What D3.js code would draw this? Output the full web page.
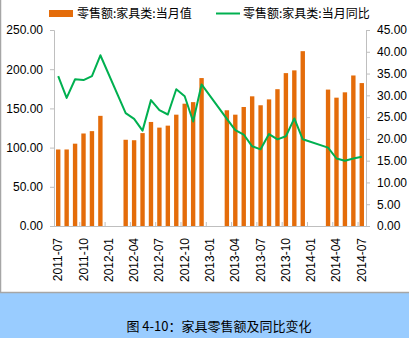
<!DOCTYPE html>
<html><head><meta charset="utf-8">
<script src="https://cdn.jsdelivr.net/npm/d3@7"></script>
<style>
html,body{margin:0;padding:0;background:#fff;}
svg{display:block;}
</style></head><body>
<svg id="c" width="409" height="338"></svg>
<script>
const months = ["2011-07","2011-08","2011-09","2011-10","2011-11","2011-12",
"2012-01","2012-02","2012-03","2012-04","2012-05","2012-06","2012-07","2012-08","2012-09","2012-10","2012-11","2012-12",
"2013-01","2013-02","2013-03","2013-04","2013-05","2013-06","2013-07","2013-08","2013-09","2013-10","2013-11","2013-12",
"2014-01","2014-02","2014-03","2014-04","2014-05","2014-06","2014-07"];
const monthlyValue = [97.6,97.6,105,118,121,140.5,
null,null,110,109.4,118.5,132.7,125.5,128,142,156,158,188.7,
null,null,147.6,142,151.8,165.4,154,161.5,174.5,195,198.5,223,
null,null,174,163.7,170.5,192,182.3];
const yoyValue = [34.4,29.4,33.7,33.5,34.4,39.2,
null,null,25.9,24.6,21.9,28.9,26.6,25.6,31.4,29.8,24,32.5,
null,null,24.6,22.0,21.0,18.3,17.6,21.1,19.9,20.6,24.7,19.9,
null,null,18.0,15.5,15.0,15.5,15.9];
const tickLabels = ["2011-07","2011-10","2012-01","2012-04","2012-07","2012-10","2013-01","2013-04","2013-07","2013-10","2014-01","2014-04","2014-07"];
const leftTicks = [0,50,100,150,200,250];
const rightTicks = [0,5,10,15,20,25,30,35,40,45];
const seriesNames = ["零售额:家具类:当月值","零售额:家具类:当月同比"];
const caption = "图 4-10：家具零售额及同比变化";

const svg = d3.select("#c");
const W=409,H=338;
const numFont = "'Liberation Sans', Arial, sans-serif";
const cjkFont = "'Noto Sans CJK SC', 'Liberation Sans', sans-serif";
const barColor="#E46C0A", lineColor="#00B050", axisColor="#BFBFBF";

// background & frame
svg.append("rect").attr("x",0).attr("y",0).attr("width",W).attr("height",H).attr("fill","#fff");
svg.append("rect").attr("x",0).attr("y",293).attr("width",W).attr("height",H-293).attr("fill","#99CCFF");
svg.append("line").attr("x1",0.5).attr("x2",0.5).attr("y1",0).attr("y2",293).attr("stroke","#A6A6A6").attr("stroke-width",1.5);
svg.append("line").attr("x1",0).attr("x2",W).attr("y1",292.5).attr("y2",292.5).attr("stroke","#A6A6A6").attr("stroke-width",1.5);

const L=54, R=366, T=30, B=226;
const x = d3.scaleBand().domain(months).range([L,R]).padding(0);
const yL = d3.scaleLinear().domain([0,250]).range([B,T]);
const yR = d3.scaleLinear().domain([0,45]).range([B,T]);

// bars
const bw = x.bandwidth()*0.52;
svg.append("g").selectAll("rect").data(months.map((m,i)=>({m,v:monthlyValue[i]})).filter(d=>d.v!=null))
 .join("rect")
 .attr("x",d=>x(d.m)+x.bandwidth()/2-bw/2).attr("width",bw)
 .attr("y",d=>yL(d.v)).attr("height",d=>yL(0)-yL(d.v))
 .attr("fill",barColor);

// line (bridges gaps)
const pts = months.map((m,i)=>({m,v:yoyValue[i]})).filter(d=>d.v!=null);
svg.append("path").datum(pts)
 .attr("d",d3.line().x(d=>x(d.m)+x.bandwidth()/2).y(d=>yR(d.v)))
 .attr("fill","none").attr("stroke",lineColor).attr("stroke-width",2).attr("stroke-linejoin","round");

// left axis
const gl = svg.append("g").attr("transform",`translate(${L},0)`)
 .call(d3.axisLeft(yL).tickValues(leftTicks).tickFormat(d3.format(".2f")).tickSize(4).tickPadding(7));
// right axis
const gr = svg.append("g").attr("transform",`translate(${R},0)`)
 .call(d3.axisRight(yR).tickValues(rightTicks).tickFormat(d3.format(".2f")).tickSize(4).tickPadding(7));
[gl,gr].forEach(g=>{
  g.select(".domain").attr("stroke",axisColor);
  g.selectAll(".tick line").attr("stroke",axisColor);
  g.selectAll(".tick text").attr("fill","#000").style("font-family",numFont).style("font-size","12px");
});

// x axis
svg.append("line").attr("x1",L).attr("x2",R).attr("y1",B+0.5).attr("y2",B+0.5).attr("stroke",axisColor);
const gx = svg.append("g").attr("transform",`translate(0,${B})`);
gx.selectAll("line.tk").data(tickLabels).join("line").attr("class","tk")
 .attr("x1",d=>x(d)+0.5).attr("x2",d=>x(d)+0.5).attr("y1",0).attr("y2",-4).attr("stroke",axisColor);
gx.selectAll("text").data(tickLabels).join("text")
 .attr("transform",d=>`translate(${x(d)+x.bandwidth()/2+4},12) rotate(-90)`)
 .attr("text-anchor","end")
 .style("font-family",numFont).style("font-size","12px").attr("fill","#000")
 .text(d=>d);

// legend
svg.append("rect").attr("x",49).attr("y",10).attr("width",24).attr("height",7).attr("fill",barColor);
svg.append("text").attr("x",77).attr("y",18).text(seriesNames[0])
 .style("font-family",cjkFont).style("font-size","12px").attr("fill","#000");
svg.append("line").attr("x1",216).attr("x2",240).attr("y1",13.5).attr("y2",13.5).attr("stroke",lineColor).attr("stroke-width",2);
svg.append("text").attr("x",243).attr("y",18).text(seriesNames[1])
 .style("font-family",cjkFont).style("font-size","12px").attr("fill","#000");

// caption
svg.append("text").attr("x",219).attr("y",331).attr("text-anchor","middle").text(caption)
 .style("font-family",cjkFont).style("font-size","13px").attr("fill","#000");
</script>
</body></html>
